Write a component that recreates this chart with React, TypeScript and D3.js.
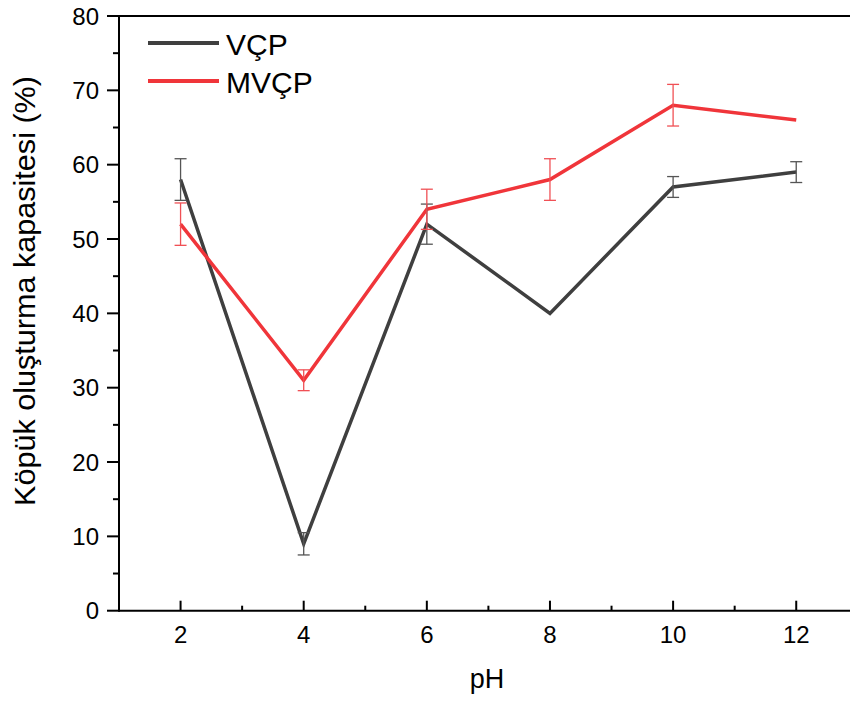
import React from "react";
import * as d3 from "d3";

const pH = [2, 4, 6, 8, 10, 12];
const vcpValues = [58, 9, 52, 40, 57, 59];
const vcpErrors = [2.8, 1.5, 2.7, 0, 1.4, 1.4];
const mvcpValues = [52, 31, 54, 58, 68, 66];
const mvcpErrors = [2.85, 1.4, 2.7, 2.8, 2.8, 0];
const seriesNames = ["VÇP", "MVÇP"];
const xTicks = [2, 4, 6, 8, 10, 12];
const xMinorTicks = [3, 5, 7, 9, 11];
const yTicks = [0, 10, 20, 30, 40, 50, 60, 70, 80];
const yMinorTicks = [5, 15, 25, 35, 45, 55, 65, 75];

const W = 850;
const H = 704;
const FONT = "'Liberation Sans', Arial, sans-serif";

export default function App() {
  const x = d3.scaleLinear().domain([1, 13]).range([119, 857.8]);
  const y = d3.scaleLinear().domain([0, 80]).range([610.7, 16]);
  const line = d3
    .line<[number, number]>()
    .x((d) => x(d[0]))
    .y((d) => y(d[1]));

  const series = [
    { name: seriesNames[0], values: vcpValues, errors: vcpErrors, color: "#3f3f3f", errColor: "#555555" },
    { name: seriesNames[1], values: mvcpValues, errors: mvcpErrors, color: "#f0353a", errColor: "#f05055" },
  ];

  return (
    <svg
      width={W}
      height={H}
      style={{ position: "absolute", left: 0, top: 0, background: "#fff" }}
      fontFamily={FONT}
    >
      <rect x={0} y={0} width={W} height={H} fill="#fff" />
      {series.map((s) => (
        <path
          key={s.name}
          d={line(pH.map((p, i) => [p, s.values[i]]) as [number, number][]) || ""}
          fill="none"
          stroke={s.color}
          strokeWidth={3.5}
          strokeLinejoin="miter"
        />
      ))}
      {series.map((s) =>
        pH.map((p, i) =>
          s.errors[i] > 0 ? (
            <g key={s.name + p} stroke={s.errColor} strokeWidth={1.3}>
              <line x1={x(p)} x2={x(p)} y1={y(s.values[i] + s.errors[i])} y2={y(s.values[i] - s.errors[i])} />
              <line x1={x(p) - 6} x2={x(p) + 6} y1={y(s.values[i] + s.errors[i])} y2={y(s.values[i] + s.errors[i])} />
              <line x1={x(p) - 6} x2={x(p) + 6} y1={y(s.values[i] - s.errors[i])} y2={y(s.values[i] - s.errors[i])} />
            </g>
          ) : null
        )
      )}
      <g stroke="#000" strokeWidth={2}>
        <line x1={x(1)} x2={W} y1={y(0)} y2={y(0)} />
        <line x1={x(1)} x2={W} y1={y(80)} y2={y(80)} />
        <line x1={x(1)} x2={x(1)} y1={y(80) - 1} y2={y(0) + 1} />
        {xTicks.map((t) => (
          <line key={"xt" + t} x1={x(t)} x2={x(t)} y1={y(0)} y2={y(0) - 10} />
        ))}
        {xMinorTicks.map((t) => (
          <line key={"xm" + t} x1={x(t)} x2={x(t)} y1={y(0)} y2={y(0) - 5} />
        ))}
        {yTicks.map((t) => (
          <line key={"yt" + t} x1={x(1)} x2={x(1) - 12} y1={y(t)} y2={y(t)} />
        ))}
        {yMinorTicks.map((t) => (
          <line key={"ym" + t} x1={x(1)} x2={x(1) - 6} y1={y(t)} y2={y(t)} />
        ))}
      </g>
      {xTicks.map((t) => (
        <text key={"xl" + t} x={x(t)} y={643} textAnchor="middle" fontSize={24} fill="#000">
          {t}
        </text>
      ))}
      {yTicks.map((t) => (
        <text key={"yl" + t} x={x(1) - 20} y={y(t) + 8.5} textAnchor="end" fontSize={24} fill="#000">
          {t}
        </text>
      ))}
      <text x={487} y={688} textAnchor="middle" fontSize={27} fill="#000">
        pH
      </text>
      <text
        transform={`translate(35, 291) rotate(-90)`}
        textAnchor="middle"
        fontSize={29}
        fill="#000"
        textLength={430}
        lengthAdjust="spacingAndGlyphs"
      >
        Köpük oluşturma kapasitesi (%)
      </text>
      {series.map((s, i) => (
        <g key={"lg" + s.name}>
          <line x1={148} x2={219} y1={43 + i * 38} y2={43 + i * 38} stroke={s.color} strokeWidth={4} />
          <text x={226} y={55 + i * 38} fontSize={30} fill="#000">
            {s.name}
          </text>
        </g>
      ))}
    </svg>
  );
}
